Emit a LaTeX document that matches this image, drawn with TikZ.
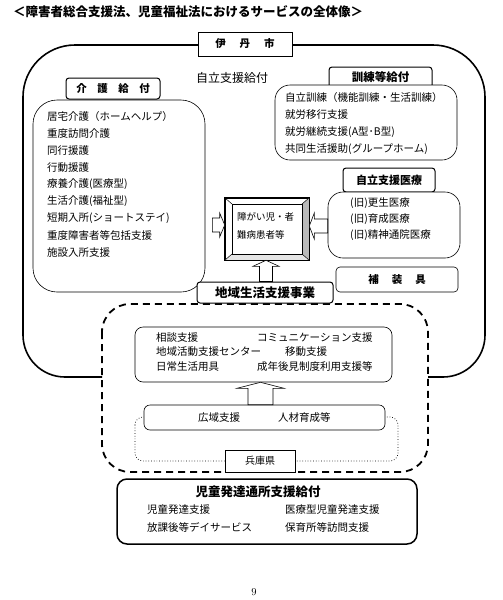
\documentclass[tikz,border=0pt]{standalone}
\usepackage{fontspec}
\newfontfamily\jp{Noto Sans CJK JP}
\usetikzlibrary{calc}
\tikzset{
  outerline/.style={line width=1.6pt},
  dashline/.style={line width=1.8pt, dash pattern=on 7pt off 5pt, rounded corners=28pt},
  dotline/.style={line width=0.7pt, dotted, rounded corners=8pt},
  lbl/.style={draw, line width=1pt, rounded corners=3pt, fill=white, inner sep=0pt},
  listbox/.style={draw, line width=0.6pt, fill=white, inner sep=0pt},
  t/.style={font=\jp\fontsize{10.5}{12}\selectfont, inner sep=0pt, anchor=west},
  tc/.style={font=\jp\fontsize{10.5}{12}\selectfont, inner sep=0pt},
  blk/.style={draw, line width=0.6pt, fill=white},
}
\newcommand\ArrUp[5]{\draw[blk] let \p1=(#1), \p2=(#2) in (\x1,\y1) -- (\x1+#3,\y1-#4) -- (\x1+#5,\y1-#4) -- (\x1+#5,\y2) -- (\x1-#5,\y2) -- (\x1-#5,\y1-#4) -- (\x1-#3,\y1-#4) -- cycle;}
\newcommand\ArrH[5]{\draw[blk] let \p1=(#1), \p2=(#2) in (\x1,\y1) -- (\x1#4,\y1+#3) -- (\x1#4,\y1+#5) -- (\x2,\y1+#5) -- (\x2,\y1-#5) -- (\x1#4,\y1-#5) -- (\x1#4,\y1-#3) -- cycle;}
\begin{document}
\begin{tikzpicture}[x=1pt,y=-1pt]
\useasboundingbox[fill=white] (0,0) rectangle (503,600);
% title
\node[inner sep=0pt, anchor=west, font=\jp\bfseries\fontsize{12.5}{14}\selectfont] (title) at (13,12) {＜障害者総合支援法、児童福祉法におけるサービスの全体像＞};
% outer solid frame
\draw[outerline] (198,45) -- (75,45) .. controls (46.3,45) and (23,68.3) .. (23,97) -- (23,335) .. controls (23,358.2) and (41.8,377) .. (65,377) -- (102,377);
\draw[outerline] (292,45) -- (433,45) .. controls (461.7,45) and (485,68.3) .. (485,97) -- (485,335) .. controls (485,358.2) and (466.2,377) .. (443,377) -- (428,377);
% dashed region and dotted region
\draw[dashline] (102,304) rectangle (428,472);
\draw[dotline] (135,417) rectangle (398,461);
% Itami
\node[draw, line width=0.8pt, fill=white, minimum width=94pt, minimum height=24pt, inner sep=0pt, font=\jp\bfseries\fontsize{10.5}{12}\selectfont] (itami) at (245,44) {伊\hspace{14pt}丹\hspace{14pt}市};
\node[tc, font=\jp\fontsize{12}{14}\selectfont] (jiritsu) at (232,78) {自立支援給付};
% Kaigo
\node[listbox, rounded corners=24pt, minimum width=172pt, minimum height=192pt] (kaigo) at (119,196) {};
\node[lbl, minimum width=94pt, minimum height=21pt, font=\jp\bfseries\fontsize{10.5}{12}\selectfont] (kaigolbl) at (113,88.5) {介　護　給　付};
\foreach \s [count=\i] in {居宅介護（ホームヘルプ）,重度訪問介護,同行援護,行動援護,療養介護(医療型),生活介護(福祉型),短期入所(ショートステイ),重度障害者等包括支援,施設入所支援}
  \node[t] (k\i) at (47,{117+16.9*(\i-1)}) {\s};
% Kunren
\node[lbl, minimum width=103pt, minimum height=21pt, font=\jp\bfseries\fontsize{11.5}{13}\selectfont, text depth=2pt] (kunrenlbl) at (380.5,77.5) {訓練等給付};
\node[listbox, rounded corners=15pt, minimum width=182pt, minimum height=75pt] (kunren) at (366,122.5) {};
\foreach \s [count=\i] in {自立訓練（機能訓練・生活訓練）,就労移行支援,就労継続支援(A型･B型),共同生活援助(グループホーム)}
  \node[t] (r\i) at (285,{98+17*(\i-1)}) {\s};
% Iryo
\node[lbl, minimum width=92pt, minimum height=24pt, font=\jp\bfseries\fontsize{11}{13}\selectfont] (iryolbl) at (389,180) {自立支援医療};
\node[listbox, rounded corners=15pt, minimum width=132pt, minimum height=66pt] (iryo) at (394,225) {};
\foreach \s [count=\i] in {(旧)更生医療,(旧)育成医療,(旧)精神通院医療}
  \node[t] (m\i) at (350,{203+16*(\i-1)}) {\s};
% Hosougu
\node[listbox, rounded corners=4pt, minimum width=122pt, minimum height=25pt, font=\jp\bfseries\fontsize{10.5}{12}\selectfont] (hosougu) at (397,279.5) {補\hspace{13pt}装\hspace{13pt}具};
% bevel frame
\node[draw, line width=0.6pt, minimum width=84pt, minimum height=62pt, inner sep=0pt] (frame) at (267,229) {};
\fill[gray!55] (frame.north east) -- (frame.south east) -- (302,254) -- (302,204) -- cycle;
\fill[gray!20] (frame.south west) -- (frame.south east) -- (302,254) -- (232,254) -- cycle;
\draw[line width=0.6pt] (frame.north west) rectangle (frame.south east);
\draw[line width=0.6pt] (232,204) rectangle (302,254);
\draw[line width=0.5pt] (frame.north west) -- (232,204) (frame.north east) -- (302,204) (frame.south west) -- (232,254) (frame.south east) -- (302,254);
\node[t, font=\jp\fontsize{9.5}{11}\selectfont] (p1) at (237,217) {障がい児・者};
\node[t, font=\jp\fontsize{9.5}{11}\selectfont] (p2) at (237,235) {難病患者等};
% Chiiki
\node[lbl, minimum width=136pt, minimum height=21pt, font=\jp\bfseries\fontsize{12.5}{14}\selectfont] (chiiki) at (265,292.5) {地域生活支援事業};
% arrows into frame
\ArrUp{$(frame.south)+(-1,0)$}{chiiki.north}{13pt}{6pt}{6.5pt}
\ArrH{$(frame.west)+(0,-4)$}{$(kaigo.east)+(7,0)$}{12pt}{-5pt}{7pt}
\ArrH{$(frame.east)+(0,-3)$}{iryo.west}{13pt}{+5pt}{7pt}
% Soudan
\node[listbox, rounded corners=8pt, minimum width=257pt, minimum height=55pt] (soudan) at (263.5,354.5) {};
\node[t] (s1) at (156,338) {相談支援};
\node[t] (s2) at (156,351.5) {地域活動支援センター};
\node[t] (s3) at (156,367) {日常生活用具};
\node[t] (s4) at (257,338) {コミュニケーション支援};
\node[t] (s5) at (285,351.5) {移動支援};
\node[t] (s6) at (257,367) {成年後見制度利用支援等};
% Kouiki
\node[listbox, rounded corners=6pt, minimum width=241pt, minimum height=25pt] (kouiki) at (264.5,417.5) {};
\node[t] (w1) at (198,418) {広域支援};
\node[t] (w2) at (278,418) {人材育成等};
\ArrUp{$(soudan.south)+(-3,0)$}{kouiki.north}{23.5pt}{6pt}{12.5pt}
% Hyogo
\node[draw, line width=0.6pt, fill=white, minimum width=70pt, minimum height=22pt, inner sep=0pt, font=\jp\fontsize{10}{12}\selectfont] (hyogo) at (260,461) {兵庫県};
% Jido
\node[draw, line width=1.5pt, rounded corners=10pt, minimum width=300pt, minimum height=65pt, inner sep=0pt] (jido) at (267,511.5) {};
\node[tc, font=\jp\bfseries\fontsize{12.5}{14}\selectfont] (j0) at (258,492) {児童発達通所支援給付};
\node[t] (j1) at (147,510) {児童発達支援};
\node[t] (j2) at (285,510) {医療型児童発達支援};
\node[t] (j3) at (147,527) {放課後等デイサービス};
\node[t] (j4) at (285,527) {保育所等訪問支援};
% page number
\node[inner sep=0pt, font=\fontsize{10.5}{12}\selectfont] (pg) at (254,592) {9};
\end{tikzpicture}
\end{document}
